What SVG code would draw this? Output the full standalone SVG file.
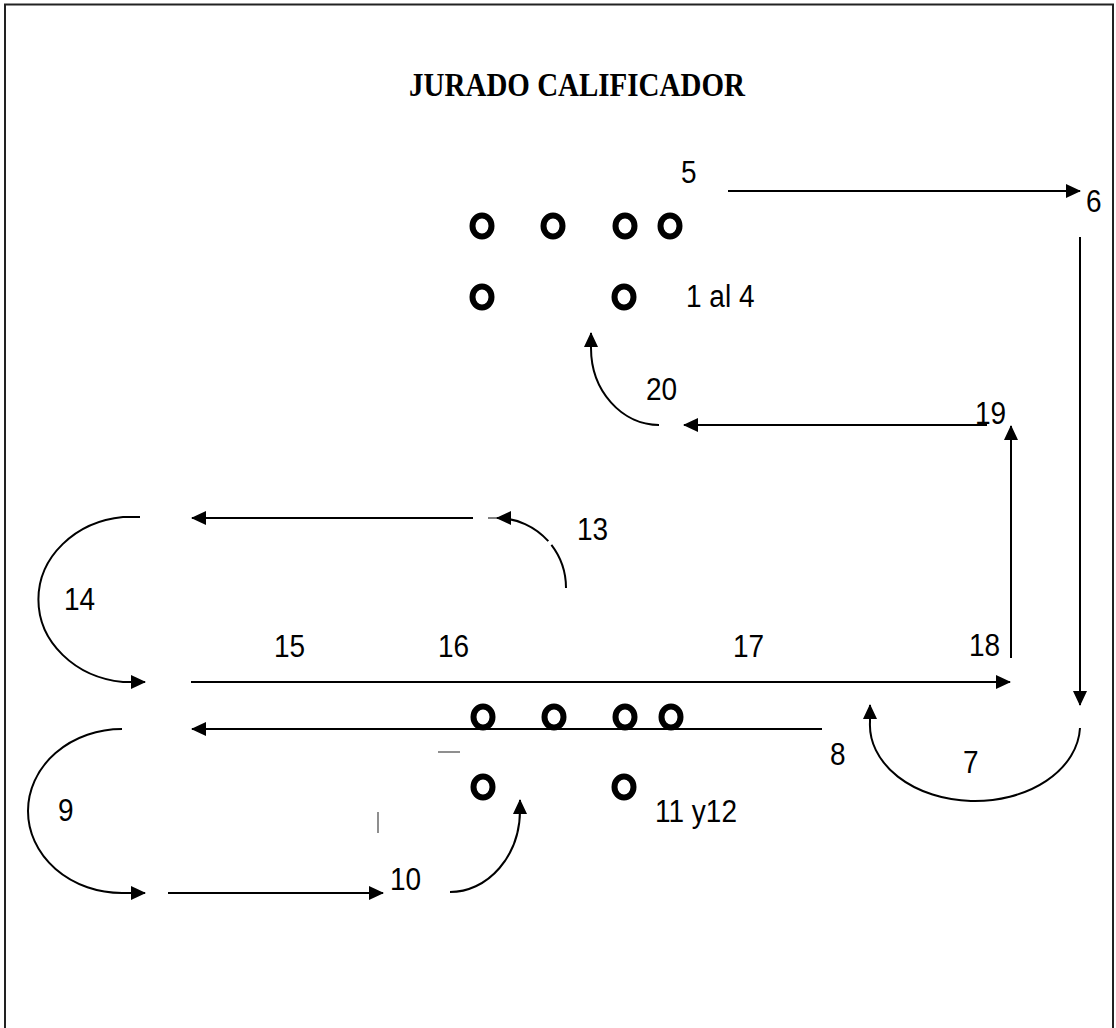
<svg xmlns="http://www.w3.org/2000/svg" width="1116" height="1028" viewBox="0 0 1116 1028">
<style>
.lbl{font-family:"Liberation Sans",Arial,sans-serif;font-size:28px;fill:#000}
.ttl{font-family:"Liberation Serif","Times New Roman",serif;font-size:29px;font-weight:bold;fill:#000}
.a{fill:none;stroke:#000;stroke-width:2;marker-end:url(#ah)}
.dot{fill:none;stroke:#000;stroke-width:6}
.frag{stroke:#444;stroke-width:1.2;fill:none}
</style>
<defs>
<marker id="ah" markerUnits="userSpaceOnUse" markerWidth="16" markerHeight="16" refX="14" refY="7" orient="auto">
<path d="M0,0 L15,7 L0,14 Z" fill="#000"/>
</marker>
</defs>
<rect width="1116" height="1028" fill="#fff"/>
<path d="M5,1030 V4.5 H1113 V1030" fill="none" stroke="#222" stroke-width="2"/>
<text class="ttl" text-anchor="middle" transform="translate(577,96) scale(1,1.17)">JURADO CALIFICADOR</text>

<g id="jurado-top">
<ellipse class="dot" cx="482" cy="226" rx="9.5" ry="10.5"/>
<ellipse class="dot" cx="553" cy="226" rx="9.5" ry="10.5"/>
<ellipse class="dot" cx="625" cy="226" rx="9.5" ry="10.5"/>
<ellipse class="dot" cx="670" cy="226" rx="9.5" ry="10.5"/>
<ellipse class="dot" cx="482" cy="297" rx="9.5" ry="10.5"/>
<ellipse class="dot" cx="624" cy="297" rx="9.5" ry="10.5"/>
<text class="lbl" transform="translate(686,307) scale(1,1.1)">1 al 4</text>
</g>

<g id="jurado-bottom">
<ellipse class="dot" cx="483" cy="717" rx="9.5" ry="10.5"/>
<ellipse class="dot" cx="554" cy="717" rx="9.5" ry="10.5"/>
<ellipse class="dot" cx="625" cy="717" rx="9.5" ry="10.5"/>
<ellipse class="dot" cx="671" cy="717" rx="9.5" ry="10.5"/>
<ellipse class="dot" cx="483" cy="787" rx="9.5" ry="10.5"/>
<ellipse class="dot" cx="624" cy="787" rx="9.5" ry="10.5"/>
<text class="lbl" transform="translate(655,822) scale(1,1.1)">11 y12</text>
</g>

<g id="connectors">
<path class="a" d="M728,191 L1080,191"/>
<path class="a" d="M1080,237 L1080,705"/>
<path class="a" d="M1080,728 A105,76 0 0 1 870,722 L870,705"/>
<path class="a" d="M822,729 L192,729"/>
<path class="a" d="M122,729 A94,82 0 0 0 122,893 L145,893"/>
<path class="a" d="M168,893 L383,893"/>
<path class="a" d="M450,892 A70,82 0 0 0 520,810 L520,800"/>
<path class="a" d="M566,588 A69,70 0 0 0 551.4,544.9 M548.3,541.2 A69,70 0 0 0 497,518"/>
<path d="M488,518 L497,518" stroke="#000" stroke-width="1"/>
<path class="a" d="M473,518 L192,518"/>
<path class="a" d="M140,517 L123,517 A95,83 0 0 0 123,682 L145,682"/>
<path class="a" d="M191,682 L1010,682"/>
<path class="a" d="M1011,658 L1011,426"/>
<path class="a" d="M987,425 L684,425"/>
<path class="a" d="M659,425 A68,77 0 0 1 591,348 L591,333"/>
<path class="frag" d="M438,752 L460,752"/>
<path class="frag" d="M378,812 L378,833"/>
</g>

<g id="labels">
<text class="lbl" transform="translate(681,183) scale(1,1.1)">5</text>
<text class="lbl" transform="translate(1086,212) scale(1,1.1)">6</text>
<text class="lbl" transform="translate(963,773) scale(1,1.1)">7</text>
<text class="lbl" transform="translate(830,765) scale(1,1.1)">8</text>
<text class="lbl" transform="translate(58,821) scale(1,1.1)">9</text>
<text class="lbl" transform="translate(390,890) scale(1,1.1)">10</text>
<text class="lbl" transform="translate(577,540) scale(1,1.1)">13</text>
<text class="lbl" transform="translate(64,610) scale(1,1.1)">14</text>
<text class="lbl" transform="translate(274,657) scale(1,1.1)">15</text>
<text class="lbl" transform="translate(438,657) scale(1,1.1)">16</text>
<text class="lbl" transform="translate(733,657) scale(1,1.1)">17</text>
<text class="lbl" transform="translate(969,656) scale(1,1.1)">18</text>
<text class="lbl" transform="translate(975,424) scale(1,1.1)">19</text>
<text class="lbl" transform="translate(646,400) scale(1,1.1)">20</text>
</g>
</svg>
